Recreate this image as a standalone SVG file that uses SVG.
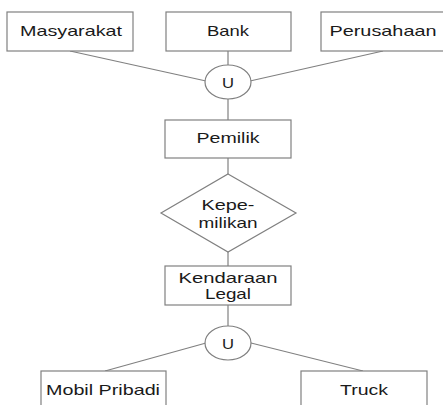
<svg xmlns="http://www.w3.org/2000/svg" width="443" height="405" viewBox="0 0 443 405">
<style>
.b{fill:#fff;stroke:#808080;stroke-width:1.2}
.c{stroke:#808080;stroke-width:1.2;fill:none}
text{font-family:"Liberation Sans",Arial,sans-serif;font-size:14.5px;fill:#1a1a1a;text-anchor:middle}
</style>
<rect width="443" height="405" fill="#fff"/>
<g id="connectors">
<line class="c" x1="70" y1="51" x2="206" y2="81"/>
<line class="c" x1="228" y1="51" x2="228" y2="65"/>
<line class="c" x1="383" y1="51" x2="250" y2="81"/>
<line class="c" x1="228" y1="99" x2="228" y2="120"/>
<line class="c" x1="228" y1="158" x2="228" y2="174"/>
<line class="c" x1="228" y1="252" x2="228" y2="266"/>
<line class="c" x1="228" y1="305" x2="228" y2="326"/>
<line class="c" x1="206" y1="343" x2="105" y2="371"/>
<line class="c" x1="251" y1="343" x2="363" y2="371"/>
</g>
<g id="masyarakat"><rect class="b" x="7" y="12" width="126" height="39"/><text x="71" y="36" textLength="102" lengthAdjust="spacingAndGlyphs">Masyarakat</text></g>
<g id="bank"><rect class="b" x="166" y="12" width="125" height="39"/><text x="228" y="36" textLength="42" lengthAdjust="spacingAndGlyphs">Bank</text></g>
<g id="perusahaan"><rect class="b" x="321" y="12" width="130" height="39"/><text x="383" y="36" textLength="107" lengthAdjust="spacingAndGlyphs">Perusahaan</text></g>
<g id="union1"><ellipse class="b" cx="228" cy="82" rx="23" ry="17"/><text x="228" y="88" textLength="12" lengthAdjust="spacingAndGlyphs">U</text></g>
<g id="pemilik"><rect class="b" x="165" y="120" width="126" height="38"/><text x="228" y="143" textLength="63" lengthAdjust="spacingAndGlyphs">Pemilik</text></g>
<g id="kepemilikan"><polygon class="b" points="228,174 296,213 228,252 161,213"/><text x="228" y="210" textLength="53" lengthAdjust="spacingAndGlyphs">Kepe-</text><text x="228" y="228" textLength="59" lengthAdjust="spacingAndGlyphs">milikan</text></g>
<g id="kendaraan"><rect class="b" x="165" y="266" width="126" height="39"/><text x="228" y="283" textLength="99" lengthAdjust="spacingAndGlyphs">Kendaraan</text><text x="228" y="299" textLength="46" lengthAdjust="spacingAndGlyphs">Legal</text></g>
<g id="union2"><ellipse class="b" cx="228" cy="343" rx="23" ry="17"/><text x="228" y="349" textLength="12" lengthAdjust="spacingAndGlyphs">U</text></g>
<g id="mobil"><rect class="b" x="41" y="371" width="125" height="40"/><text x="103" y="395" textLength="114" lengthAdjust="spacingAndGlyphs">Mobil Pribadi</text></g>
<g id="truck"><rect class="b" x="301" y="371" width="126" height="40"/><text x="364" y="395" textLength="48" lengthAdjust="spacingAndGlyphs">Truck</text></g>
</svg>
